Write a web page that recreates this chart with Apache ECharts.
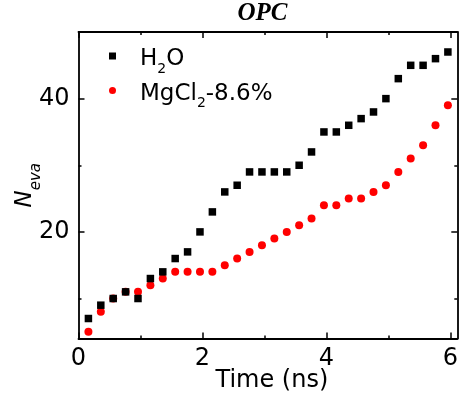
<!DOCTYPE html>
<html>
<head>
<meta charset="utf-8">
<script src="https://cdn.jsdelivr.net/npm/echarts@6/dist/echarts.min.js"></script>
<style>
  html, body { margin: 0; padding: 0; background: #ffffff; }
  #chart { width: 461px; height: 405px; }
</style>
</head>
<body>
<div id="chart"></div>
<script>
// Evaporated molecule counts over simulation time (OPC water model)
const timeNs = [0.16, 0.36, 0.56, 0.76, 0.96, 1.16, 1.36, 1.56, 1.76, 1.96,
                2.16, 2.36, 2.56, 2.76, 2.96, 3.16, 3.36, 3.56, 3.76, 3.96,
                4.16, 4.36, 4.56, 4.76, 4.96, 5.16, 5.36, 5.56, 5.76, 5.96];
const h2oCounts = [7, 9, 10, 11, 10, 13, 14, 16, 17, 20,
                   23, 26, 27, 29, 29, 29, 29, 30, 32, 35,
                   35, 36, 37, 38, 40, 43, 45, 45, 46, 47];
const mgcl2Counts = [5, 8, 10, 11, 11, 12, 13, 14, 14, 14,
                     14, 15, 16, 17, 18, 19, 20, 21, 22, 24,
                     24, 25, 25, 26, 27, 29, 31, 33, 36, 39];

const seriesNames = ['H2O', 'MgCl2-8.6%'];
const xMajorTicks = [0, 2, 4, 6];
const xMinorTicks = [1, 3, 5];
const yMajorTicks = [20, 40];
const yMinorTicks = [10, 30];

const SANS = '"DejaVu Sans", "Liberation Sans", Arial, sans-serif';
const SERIF = '"Liberation Serif", "Times New Roman", serif';
const X_RANGE = { min: 0, max: 6.112 };
const Y_RANGE = { min: 4, max: 50 };
const frameLine = { color: '#000', width: 1.8 };
const tickLine = { color: '#000', width: 1.5 };

// One frame side: optional spine plus inward ticks at the given values.
function frameAxis(range, position, tickValues, tickLength, withLine, extra) {
  return Object.assign({
    type: 'value',
    position: position,
    min: range.min,
    max: range.max,
    axisLine: { show: withLine, onZero: false, lineStyle: frameLine },
    axisTick: { show: true, inside: true, length: tickLength,
                customValues: tickValues, lineStyle: tickLine },
    axisLabel: { show: false },
    splitLine: { show: false },
    minorTick: { show: false }
  }, extra || {});
}

const tickLabel = (values) => ({
  show: true, customValues: values, margin: 9,
  fontSize: 24, fontFamily: SANS, color: '#000'
});

const legendLabels = {
  'H2O': '{sp| }{t|H}{s|2}{t|O}',
  'MgCl2-8.6%': '{sp| }{t|MgCl}{s|2}{t|-8.6%}'
};

const chart = echarts.init(document.getElementById('chart'), null, { renderer: 'canvas' });

chart.setOption({
  animation: false,
  backgroundColor: '#ffffff',
  title: {
    text: 'OPC',
    left: 262.5,
    top: 1,
    padding: 0,
    textAlign: 'center',
    textStyle: { fontFamily: SERIF, fontStyle: 'italic', fontWeight: 'bold',
                 fontSize: 25, color: '#000' }
  },
  grid: { left: 78.5, top: 32, width: 382, height: 306.5, containLabel: false },
  legend: {
    orient: 'vertical',
    left: 109,
    top: 48,
    padding: 0,
    itemGap: 6.5,
    itemWidth: 7,
    itemHeight: 7,
    selectedMode: false,
    data: [{ name: seriesNames[0], icon: 'rect' }, { name: seriesNames[1], icon: 'circle' }],
    formatter: (name) => legendLabels[name],
    textStyle: {
      color: '#000', fontFamily: SANS, fontSize: 23,
      rich: {
        sp: { width: 19, lineHeight: 30, fontSize: 10 },
        t: { fontFamily: SANS, fontSize: 23, verticalAlign: 'bottom', color: '#000' },
        s: { fontFamily: SANS, fontSize: 14, height: 4, verticalAlign: 'bottom', color: '#000' }
      }
    }
  },
  xAxis: [
    frameAxis(X_RANGE, 'bottom', xMajorTicks, 6, true, {
      axisLabel: Object.assign(tickLabel(xMajorTicks), { margin: 8 }),
      name: 'Time (ns)',
      nameLocation: 'middle',
      nameGap: 30,
      nameMoveOverlap: false,
      nameTextStyle: { fontSize: 24, fontFamily: SANS, color: '#000', padding: [0, 0, 0, 8] }
    }),
    frameAxis(X_RANGE, 'bottom', xMinorTicks, 3, false),
    frameAxis(X_RANGE, 'top', xMajorTicks, 6, true),
    frameAxis(X_RANGE, 'top', xMinorTicks, 3, false)
  ],
  yAxis: [
    frameAxis(Y_RANGE, 'left', yMajorTicks, 6, true, {
      axisLabel: tickLabel(yMajorTicks),
      name: '{n|N}{s|eva}',
      nameLocation: 'middle',
      nameGap: 35,
      nameMoveOverlap: false,
      nameTextStyle: {
        color: '#000',
        rich: {
          n: { fontFamily: SANS, fontStyle: 'italic', fontSize: 23, lineHeight: 36,
               verticalAlign: 'middle', color: '#000' },
          s: { fontFamily: SANS, fontStyle: 'italic', fontSize: 15,
               verticalAlign: 'bottom', color: '#000' }
        }
      }
    }),
    frameAxis(Y_RANGE, 'left', yMinorTicks, 3, false),
    frameAxis(Y_RANGE, 'right', yMajorTicks, 6, true),
    frameAxis(Y_RANGE, 'right', yMinorTicks, 3, false)
  ],
  series: [
    {
      name: seriesNames[1],
      type: 'scatter',
      xAxisIndex: 0,
      yAxisIndex: 0,
      symbol: 'circle',
      symbolSize: 8,
      itemStyle: { color: '#ff0000', opacity: 1 },
      z: 2,
      data: timeNs.map((t, i) => [t, mgcl2Counts[i]])
    },
    {
      name: seriesNames[0],
      type: 'scatter',
      xAxisIndex: 0,
      yAxisIndex: 0,
      symbol: 'rect',
      symbolSize: 7.5,
      itemStyle: { color: '#000000', opacity: 1 },
      z: 3,
      data: timeNs.map((t, i) => [t, h2oCounts[i]])
    }
  ]
});
</script>
</body>
</html>
